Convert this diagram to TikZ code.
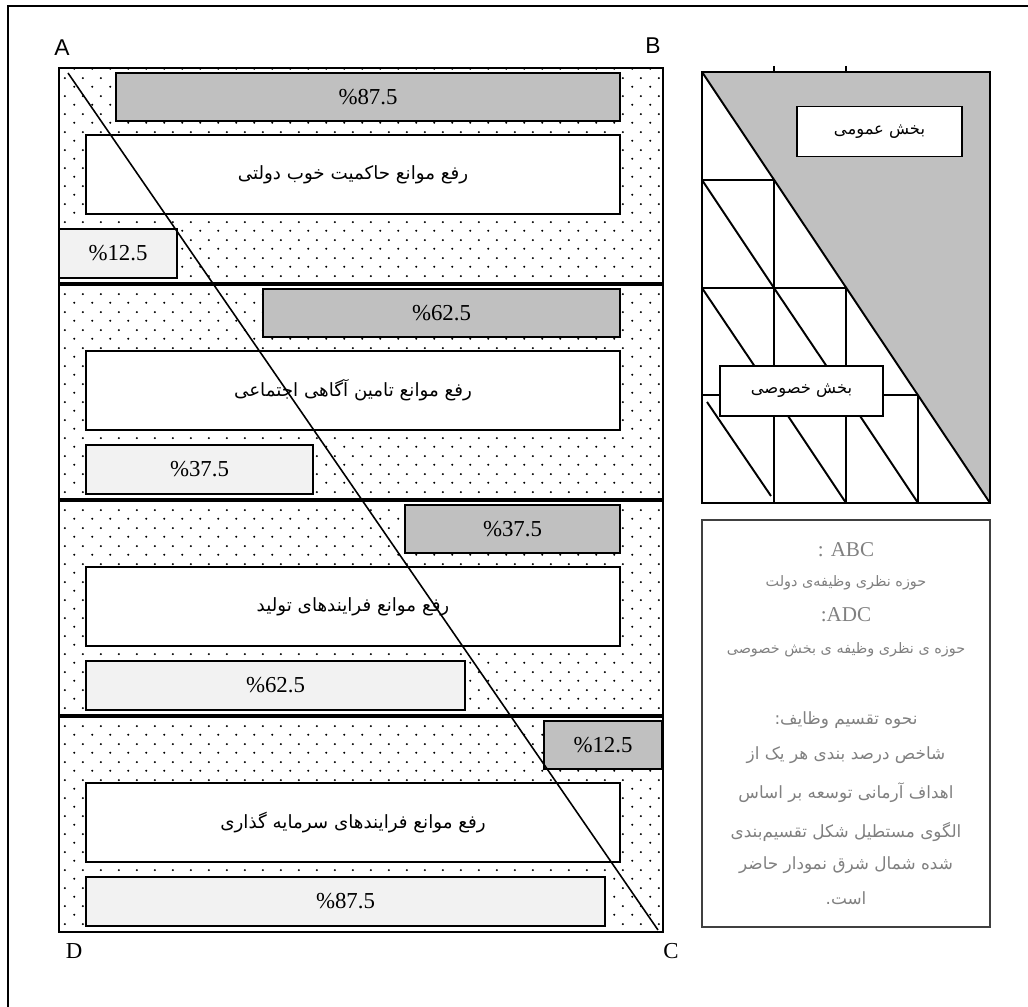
\documentclass[tikz,border=0pt]{standalone}
\usepackage{fontspec}
\setmainfont{Liberation Serif}
\newfontfamily\labelsans{Liberation Sans}
\newfontfamily\arabicfont[Script=Arabic]{DejaVu Sans}
\TeXXeTstate=1
\usetikzlibrary{patterns}
\definecolor{barshade}{RGB}{192, 192, 192}
\definecolor{barlight}{RGB}{242, 242, 242}
\definecolor{notegray}{RGB}{128, 128, 128}
\definecolor{noteframe}{RGB}{64, 64, 64}
\pgfdeclarepatternformonly{sparsedots}{\pgfpointorigin}{\pgfqpoint{10pt}{10pt}}{\pgfqpoint{10pt}{10pt}}{%
  \pgfpathcircle{\pgfqpoint{2.5pt}{2.5pt}}{0.65pt}%
  \pgfpathcircle{\pgfqpoint{7.5pt}{7.5pt}}{0.65pt}%
  \pgfusepath{fill}}

\begin{document}
\begin{tikzpicture}[x=0.02cm, y=-0.02cm,
  pctfont/.style={font=\fontsize{13}{15}\selectfont},
  shadebar/.style={draw, line width=1.1pt, fill=barshade, inner sep=0pt, minimum height=0.96cm, pctfont},
  lightbar/.style={draw, line width=1.1pt, fill=barlight, inner sep=0pt, minimum height=0.98cm, pctfont},
  goalbox/.style={draw, line width=1.1pt, fill=white, inner sep=0pt, minimum width=10.68cm, minimum height=1.58cm, font={\arabicfont\fontsize{10.4}{12}\selectfont}},
  sectorbox/.style={draw, line width=1.1pt, fill=white, inner sep=0pt, minimum height=1cm, font={\arabicfont\fontsize{9.3}{11}\selectfont}},
  notetext/.style={text=notegray, font={\arabicfont\fontsize{9.6}{11}\selectfont}},
  notesmall/.style={text=notegray, font={\arabicfont\fontsize{8.2}{10}\selectfont}},
  notelatin/.style={text=notegray, font=\fontsize{12}{14}\selectfont},
  cellline/.style={line width=1.1pt}
]
  \useasboundingbox (0,0) rectangle (1028,1007);

  % Outer frame (only top and left edges are on the page)
  \draw[line width=0.9pt] (8,1007) -- (8,6) -- (1028,6);

  % Left panel: dotted background
  \fill[white] (59,68) rectangle (663,932);
  \fill[pattern=sparsedots] (59,68) rectangle (663,932);
  \draw[line width=1.1pt] (59,68) rectangle (663,932);
  \draw[line width=2pt] (59,284) -- (663,284);
  \draw[line width=2pt] (59,500) -- (663,500);
  \draw[line width=2pt] (59,716) -- (663,716);

  % Corner labels
  \node[font=\labelsans\fontsize{13}{15}\selectfont] (labA) at (62,48) {A};
  \node[font=\labelsans\fontsize{13}{15}\selectfont] (labB) at (653,46) {B};
  \node[pctfont] (labD) at (74,951) {D};
  \node[pctfont] (labC) at (671,951) {C};

  % Section 1
  \node[shadebar, minimum width=10.08cm] (g1) at (368,97) {\%87.5};
  \node[goalbox] (w1) at (353,174.5) {\beginR رفع موانع حاکمیت خوب دولتی\endR};
  \node[lightbar, minimum width=2.36cm] (l1) at (118,253.5) {\%12.5};

  % Section 2
  \node[shadebar, minimum width=7.14cm] (g2) at (441.5,313) {\%62.5};
  \node[goalbox] (w2) at (353,390.5) {\beginR رفع موانع تامین آگاهی اجتماعی\endR};
  \node[lightbar, minimum width=4.54cm] (l2) at (199.5,469.5) {\%37.5};

  % Section 3
  \node[shadebar, minimum width=4.30cm] (g3) at (512.5,529) {\%37.5};
  \node[goalbox] (w3) at (353,606.5) {\beginR رفع موانع فرایندهای تولید\endR};
  \node[lightbar, minimum width=7.58cm] (l3) at (275.5,685.5) {\%62.5};

  % Section 4
  \node[shadebar, minimum width=2.36cm] (g4) at (603,745) {\%12.5};
  \node[goalbox] (w4) at (353,822.5) {\beginR رفع موانع فرایندهای سرمایه گذاری\endR};
  \node[lightbar, minimum width=10.38cm] (l4) at (345.5,901.5) {\%87.5};

  % Diagonal A -- C
  \coordinate (diagA) at (68,73);
  \coordinate (diagC) at (658,930);
  \draw[line width=0.9pt] (diagA) -- (diagC);

  % Sector panel: public part shaded above the diagonal
  \draw[line width=1.1pt, fill=white] (702,72) rectangle (990,503);
  \fill[barshade] (702,72) -- (990,72) -- (990,503) -- cycle;
  \draw[cellline] (702,72) -- (990,503);
  \draw[cellline] (702,180) -- (774,180);
  \draw[cellline] (702,288) -- (846,288);
  \draw[cellline] (702,395) -- (918,395);
  \draw[cellline] (774,180) -- (774,503);
  \draw[cellline] (846,288) -- (846,503);
  \draw[cellline] (918,395) -- (918,503);
  \draw[cellline] (702,180) -- (774,288);
  \draw[cellline] (702,288) -- (774,395);
  \draw[cellline] (774,288) -- (846,395);
  \draw[cellline] (707,402) -- (771,496);
  \draw[cellline] (774,395) -- (846,503);
  \draw[cellline] (846,395) -- (918,503);
  \draw[line width=1.1pt] (702,72) rectangle (990,503);
  \draw[line width=0.8pt] (774,66) -- (774,72);
  \draw[line width=0.8pt] (846,66) -- (846,72);
  \node[sectorbox, minimum width=3.3cm] (public) at (879.5,131.5) {\beginR بخش عمومی\endR};
  \node[sectorbox, minimum width=3.26cm] (private) at (801.5,391) {\beginR بخش خصوصی\endR};

  % Legend
  \draw[noteframe, line width=1.3pt] (702,520) rectangle (990,927);
  \node[notelatin] (abc) at (846,550) {: ABC};
  \node[notesmall] (abcnote) at (846,583) {\beginR حوزه نظری وظیفه‌ی دولت\endR};
  \node[notelatin] (adc) at (846,615) {:ADC};
  \node[notesmall] (adcnote) at (846,650) {\beginR حوزه ی نظری وظیفه ی بخش خصوصی\endR};
  \node[notetext] (howto) at (846,720) {\beginR نحوه تقسیم وظایف:\endR};
  \node[notetext] (rule1) at (846,755) {\beginR شاخص درصد بندی هر یک از\endR};
  \node[notetext] (rule2) at (846,793) {\beginR اهداف آرمانی توسعه بر اساس\endR};
  \node[notetext] (rule3) at (846,832) {\beginR الگوی مستطیل شکل تقسیم‌بندی\endR};
  \node[notetext] (rule4) at (846,865) {\beginR شده شمال شرق نمودار حاضر\endR};
  \node[notetext] (rule5) at (846,898) {\beginR است.\endR};
\end{tikzpicture}
\end{document}
